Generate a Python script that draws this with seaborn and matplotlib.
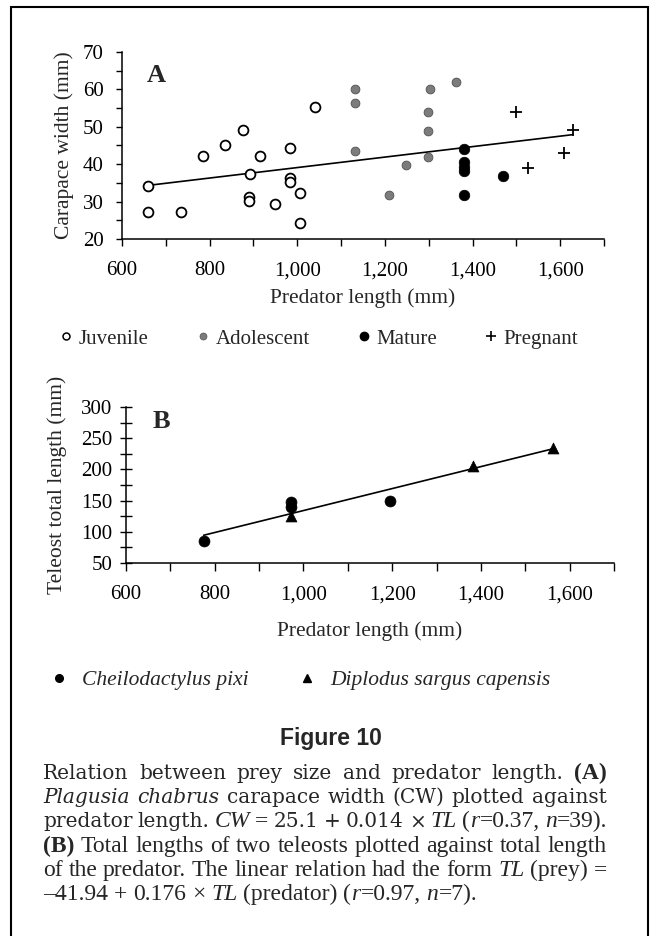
import numpy as np
import pandas as pd
import matplotlib
matplotlib.use("Agg")
import matplotlib.pyplot as plt
import seaborn as sns
from matplotlib.lines import Line2D
from matplotlib.patches import Rectangle
from matplotlib.ticker import MultipleLocator, FuncFormatter

# Panel A: Plagusia chabrus carapace width vs predator length
juv_x = [660, 660, 735, 785, 835, 875, 893, 890, 890, 915, 950, 983, 983, 983, 1007, 1007, 1040]
juv_y = [34.3, 27.1, 27.1, 42.3, 45.2, 49.2, 37.3, 31.3, 30.2, 42.3, 29.3, 44.4, 36.4, 35.3, 32.3, 24.4, 55.3]
adol_x = [1132, 1132, 1132, 1209, 1247, 1298, 1298, 1298, 1304, 1362]
adol_y = [60.2, 56.3, 43.4, 31.8, 39.9, 41.9, 49.0, 54.0, 60.0, 62.1]
mat_x = [1380, 1380, 1380, 1380, 1380, 1470]
mat_y = [44.1, 40.6, 39.3, 38.2, 31.8, 36.9]
preg_x = [1499, 1526, 1609, 1629]
preg_y = [54.0, 38.9, 43.1, 49.1]
fit_a = (25.1, 0.014)

# Panel B: teleost total length vs predator length
cheilo_x = [775, 971, 971, 1195]
cheilo_y = [85, 147, 140, 150]
diplo_x = [971, 1383, 1562]
diplo_y = [125, 205, 235]
fit_b = (-41.94, 0.176)

crabs = pd.DataFrame({
    "length": juv_x + adol_x + mat_x + preg_x,
    "width": juv_y + adol_y + mat_y + preg_y,
    "stage": ["Juvenile"] * len(juv_x) + ["Adolescent"] * len(adol_x)
             + ["Mature"] * len(mat_x) + ["Pregnant"] * len(preg_x),
})
fish = pd.DataFrame({
    "length": cheilo_x + diplo_x,
    "tl": cheilo_y + diplo_y,
    "species": ["Cheilodactylus pixi"] * len(cheilo_x) + ["Diplodus sargus capensis"] * len(diplo_x),
})

sns.set_style("ticks")
plt.rcParams["font.family"] = ["Liberation Serif", "DejaVu Serif"]
plt.rcParams["axes.edgecolor"] = "black"
plt.rcParams["xtick.color"] = "black"
plt.rcParams["ytick.color"] = "black"
plt.rcParams["axes.linewidth"] = 1.1

W, H = 650, 936
fig = plt.figure(figsize=(6.5, 9.36), dpi=100)

def box(l, r, t, b):
    return [l / W, 1 - b / H, (r - l) / W, (b - t) / H]

axA = fig.add_axes(box(122, 604, 52, 239))
axB = fig.add_axes(box(126, 614, 407, 563))
thousands = FuncFormatter(lambda v, p: f"{v:,.0f}")
grey = "#7c7c7c"

# ---- panel A
xa = np.array([crabs["length"].min(), crabs["length"].max()])
sns.lineplot(x=xa, y=fit_a[0] + fit_a[1] * xa, color="black", linewidth=1.2, ax=axA, zorder=1)
stage_kw = {
    "Juvenile": dict(marker="o", color="white", edgecolor="black", s=50, linewidth=1.3),
    "Adolescent": dict(marker="o", color=grey, edgecolor="#505050", s=40, linewidth=0.6),
    "Mature": dict(marker="o", color="black", edgecolor="black", s=58, linewidth=0.5),
    "Pregnant": dict(marker="+", color="black", s=75, linewidth=1.3),
}
for stage, kw in stage_kw.items():
    sns.scatterplot(data=crabs[crabs["stage"] == stage], x="length", y="width",
                    ax=axA, legend=False, zorder=3, **kw)

axA.set_xlim(600, 1700)
axA.set_ylim(20, 70)
axA.xaxis.set_major_locator(MultipleLocator(200))
axA.xaxis.set_minor_locator(MultipleLocator(100))
axA.yaxis.set_major_locator(MultipleLocator(10))
axA.yaxis.set_minor_locator(MultipleLocator(5))
axA.xaxis.set_major_formatter(thousands)
axA.tick_params(axis="x", which="both", direction="out", length=5, width=1, pad=11, labelsize=15)
axA.tick_params(axis="y", which="both", direction="out", length=4, width=1, pad=9, labelsize=15)
axA.set_xlabel("Predator length (mm)", fontsize=15.5)
axA.set_ylabel("Carapace width (mm)", fontsize=15.5)
axA.xaxis.set_label_coords(0.5, (239 - 288) / 187)
axA.yaxis.set_label_coords((74 - 122) / 482, 0.5)

# ---- panel B
xb = np.array([fish["length"].min(), fish["length"].max()])
sns.lineplot(x=xb, y=fit_b[0] + fit_b[1] * xb, color="black", linewidth=1.2, ax=axB, zorder=1)
sp_kw = {
    "Cheilodactylus pixi": dict(marker="o", s=62),
    "Diplodus sargus capensis": dict(marker="^", s=62),
}
for sp, kw in sp_kw.items():
    sns.scatterplot(data=fish[fish["species"] == sp], x="length", y="tl", ax=axB,
                    color="black", edgecolor="black", linewidth=0.5, legend=False, zorder=3, **kw)

axB.set_xlim(600, 1700)
axB.set_ylim(50, 300)
axB.xaxis.set_major_locator(MultipleLocator(200))
axB.xaxis.set_minor_locator(MultipleLocator(100))
axB.yaxis.set_major_locator(MultipleLocator(50))
axB.yaxis.set_minor_locator(MultipleLocator(25))
axB.xaxis.set_major_formatter(thousands)
axB.tick_params(axis="x", which="both", direction="out", length=6, width=1, pad=10, labelsize=15)
axB.tick_params(axis="y", which="both", direction="inout", length=8, width=1, pad=6, labelsize=15)
axB.set_xlabel("Predator length (mm)", fontsize=15.5)
axB.set_ylabel("Teleost total length (mm)", fontsize=15.5)
axB.xaxis.set_label_coords(0.5, (563 - 621) / 156)
axB.yaxis.set_label_coords((67 - 126) / 488, 0.5)

sns.despine(fig=fig)

fig.text(147 / W, 1 - 75 / H, "A", fontsize=19, fontweight="bold", va="center", ha="left")
fig.text(153 / W, 1 - 421 / H, "B", fontsize=19, fontweight="bold", va="center", ha="left")

# ---- legends
hA = [
    Line2D([], [], ls="none", marker="o", mfc="white", mec="black", ms=5, mew=1.1, label="Juvenile"),
    Line2D([], [], ls="none", marker="o", mfc=grey, mec="#505050", ms=5, mew=0.5, label="Adolescent"),
    Line2D([], [], ls="none", marker="o", mfc="black", mec="black", ms=6, label="Mature"),
    Line2D([], [], ls="none", marker="+", color="black", ms=7, mew=1.2, label="Pregnant"),
]
fig.legend(handles=hA, loc="center left", bbox_to_anchor=(58 / W, 1 - 339 / H), ncol=4,
           frameon=False, prop=dict(family="Liberation Serif", size=15), handlelength=0.8,
           handletextpad=0.2, columnspacing=2.2, borderpad=0, borderaxespad=0)
hB = [
    Line2D([], [], ls="none", marker="o", color="black", ms=5.5, label="Cheilodactylus pixi"),
    Line2D([], [], ls="none", marker="^", color="black", ms=6, label="Diplodus sargus capensis"),
]
fig.legend(handles=hB, loc="center left", bbox_to_anchor=(50 / W, 1 - 680 / H), ncol=2,
           frameon=False, prop=dict(family="Liberation Serif", size=15.5, style="italic"),
           handlelength=0.8, handletextpad=0.7, columnspacing=2.3, borderpad=0, borderaxespad=0)

# ---- caption
fig.text(331 / W, 1 - 745 / H, "Figure 10", family="Liberation Sans", fontweight="bold",
         fontsize=16.5, ha="center", va="baseline")

STY = {
    "c": dict(family="DejaVu Serif", size=14.5),
    "ci": dict(family="DejaVu Serif", size=14.5, style="italic"),
    "t": dict(family="Liberation Serif", size=17),
    "ti": dict(family="Liberation Serif", size=17, style="italic"),
    "tb": dict(family="Liberation Serif", size=17, weight="bold"),
}

def words(s, key):
    return [[(w, key)] for w in s.split()]

cap_lines = [
    (words("Relation between prey size and predator length.", "c") + [[("(A)", "tb")]], True),
    (words("Plagusia chabrus", "ci") + words("carapace width (CW) plotted against", "c"), True),
    (words("predator length.", "c") + [[("CW", "ti")], [("=", "t")], [("25.1", "c")], [("+", "c")],
      [("0.014", "c")], [("×", "c")], [("TL", "ti")],
      [("(", "t"), ("r", "ti"), ("=0.37,", "t")], [("n", "ti"), ("=39).", "t")]], True),
    ([[("(B)", "tb")]] + words("Total lengths of two teleosts plotted against total length", "t"), True),
    (words("of the predator. The linear relation had the form", "t") + [[("TL", "ti")]]
     + words("(prey) =", "t"), True),
    (words("–41.94 + 0.176 ×", "t") + [[("TL", "ti")]] + words("(predator)", "t")
     + [[("(", "t"), ("r", "ti"), ("=0.97,", "t")], [("n", "ti"), ("=7).", "t")]], False),
]

renderer = fig.canvas.get_renderer()
X0, X1 = 43, 607
probe = fig.text(0, 0, "a a", **STY["t"])
probe2 = fig.text(0, 0, "aa", **STY["t"])
space_w = probe.get_window_extent(renderer).width - probe2.get_window_extent(renderer).width
probe.remove()
probe2.remove()

for i, (line, justify) in enumerate(cap_lines):
    base = 779 + 24.2 * i
    placed, widths = [], []
    for word in line:
        pieces = []
        for txt, key in word:
            t = fig.text(0, 1 - base / H, txt, va="baseline", ha="left", **STY[key])
            pieces.append((t, t.get_window_extent(renderer).width))
        placed.append(pieces)
        widths.append(sum(w for _, w in pieces))
    gap = (X1 - X0 - sum(widths)) / (len(line) - 1) if justify else space_w
    x = X0
    for pieces in placed:
        for t, w in pieces:
            t.set_x(x / W)
            x += w
        x += gap

fig.patches.append(Rectangle((11 / W, -0.02), (648 - 11) / W, 1.02 - 7 / H,
                             transform=fig.transFigure, fill=False, lw=1.5, ec="black"))

fig.savefig("out.png", dpi=100)
